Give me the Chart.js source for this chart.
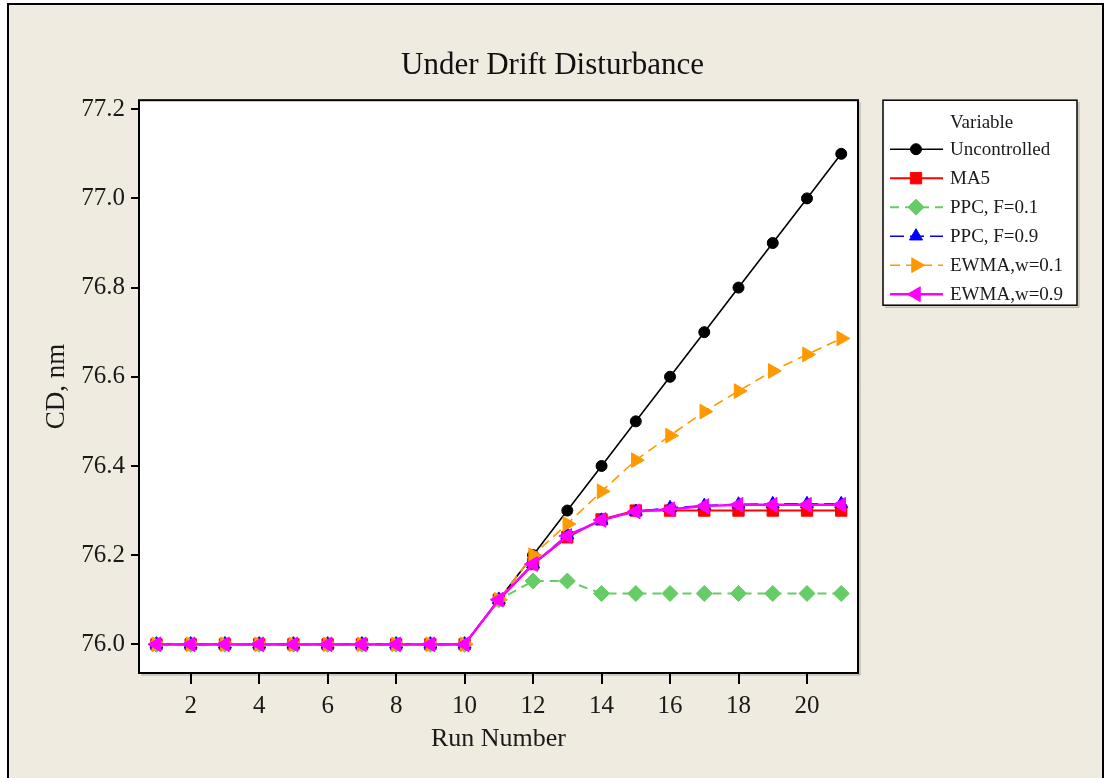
<!DOCTYPE html>
<html>
<head>
<meta charset="utf-8">
<script src="https://cdn.jsdelivr.net/npm/chart.js@4"></script>
<style>
    body { margin: 0; background: #fff; }
    .frame {
        position: absolute; left: 7px; top: 3px;
        width: 1097px; height: 800px;
        box-sizing: border-box;
        border: 2px solid #000;
        background: #efebe0;
    }
    #chart { position: absolute; left: 0; top: 0; }
</style>
</head>
<body>
<div class="frame"></div>
<canvas id="chart" width="1105" height="778"></canvas>
<script>
const runs = [1, 2, 3, 4, 5, 6, 7, 8, 9, 10, 11, 12, 13, 14, 15, 16, 17, 18, 19, 20, 21];
const uncontrolled = [76, 76, 76, 76, 76, 76, 76, 76, 76, 76, 76.1, 76.2, 76.3, 76.4, 76.5, 76.6, 76.7, 76.8, 76.9, 77.0, 77.1];
const ma5 = [76, 76, 76, 76, 76, 76, 76, 76, 76, 76, 76.1, 76.18, 76.24, 76.28, 76.3, 76.3, 76.3, 76.3, 76.3, 76.3, 76.3];
const ppcF01 = [76, 76, 76, 76, 76, 76, 76, 76, 76, 76, 76.1, 76.142, 76.142, 76.114, 76.114, 76.114, 76.114, 76.114, 76.114, 76.114, 76.114];
const ppcF09 = [76, 76, 76, 76, 76, 76, 76, 76, 76, 76, 76.1, 76.18, 76.245, 76.278, 76.298, 76.306, 76.311, 76.314, 76.315, 76.315, 76.315];
const ewmaW01 = [76, 76, 76, 76, 76, 76, 76, 76, 76, 76, 76.1, 76.2, 76.27, 76.343, 76.413, 76.468, 76.522, 76.568, 76.613, 76.65, 76.686];
const ewmaW09 = [76, 76, 76, 76, 76, 76, 76, 76, 76, 76, 76.1, 76.18, 76.243, 76.279, 76.298, 76.303, 76.31, 76.313, 76.313, 76.313, 76.313];

const xTicks = [2, 4, 6, 8, 10, 12, 14, 16, 18, 20];
const yTicks = [76.0, 76.2, 76.4, 76.6, 76.8, 77.0, 77.2];

const serif = "'Liberation Serif', 'Times New Roman', serif";
const textColour = '#1a1a1a';

function series(label, values, colour, style, extra) {
    return Object.assign({
        label: label,
        data: runs.map((r, i) => ({ x: r, y: values[i] })),
        borderColor: colour,
        backgroundColor: colour,
        pointBackgroundColor: colour,
        pointBorderColor: colour,
        pointBorderWidth: 1,
        pointStyle: style,
        borderWidth: 1.6,
        tension: 0,
        fill: false
    }, extra);
}

const datasets = [
    series('Uncontrolled', uncontrolled, '#000000', 'circle', { pointRadius: 5.5, order: 6 }),
    series('MA5', ma5, '#ff0000', 'rect', { pointRadius: 8, borderWidth: 2, order: 5 }),
    series('PPC, F=0.1', ppcF01, '#66cc66', 'rectRot', { pointRadius: 8, borderWidth: 2, borderDash: [9, 6], order: 4 }),
    series('PPC, F=0.9', ppcF09, '#0000ff', 'triangle', { pointRadius: 7.5, borderDash: [14, 6], order: 3 }),
    series('EWMA,w=0.1', ewmaW01, '#ff9900', 'triangle', { pointRadius: 8.5, pointRotation: 90, borderDash: [10, 6], order: 2 }),
    series('EWMA,w=0.9', ewmaW09, '#ff00ff', 'triangle', { pointRadius: 8.5, pointRotation: -90, borderWidth: 2.4, order: 1 })
];

// white plot area + framed border
const plotFrame = {
    id: 'plotFrame',
    beforeDraw(chart) {
        const { ctx, chartArea: a } = chart;
        ctx.save();
        ctx.fillStyle = '#ffffff';
        ctx.fillRect(a.left, a.top, a.right - a.left, a.bottom - a.top);
        ctx.restore();
    },
    afterDraw(chart) {
        const { ctx, chartArea: a } = chart;
        ctx.save();
        ctx.strokeStyle = 'rgba(0,0,0,0.3)';
        ctx.lineWidth = 1;
        ctx.beginPath();
        ctx.moveTo(a.right + 2, a.top + 2);
        ctx.lineTo(a.right + 2, a.bottom + 2);
        ctx.lineTo(a.left + 2, a.bottom + 2);
        ctx.stroke();
        ctx.strokeStyle = '#000';
        ctx.lineWidth = 2;
        ctx.strokeRect(a.left, a.top, a.right - a.left, a.bottom - a.top);
        ctx.restore();
    }
};

// Minitab style boxed legend on the right
const boxLegend = {
    id: 'boxLegend',
    afterDraw(chart) {
        const { ctx, chartArea: a } = chart;
        const left = a.right + 25;
        const top = a.top;
        const width = 194;
        const height = 205;
        const rowH = 29;
        ctx.save();
        ctx.fillStyle = '#ffffff';
        ctx.fillRect(left, top, width, height);
        ctx.strokeStyle = 'rgba(0,0,0,0.3)';
        ctx.lineWidth = 1;
        ctx.beginPath();
        ctx.moveTo(left + width + 2, top + 2);
        ctx.lineTo(left + width + 2, top + height + 2);
        ctx.lineTo(left + 2, top + height + 2);
        ctx.stroke();
        ctx.strokeStyle = '#000';
        ctx.lineWidth = 1.5;
        ctx.strokeRect(left, top, width, height);

        ctx.font = '19px ' + serif;
        ctx.fillStyle = textColour;
        ctx.textBaseline = 'middle';
        ctx.textAlign = 'left';
        ctx.fillText('Variable', left + 67, top + 23);

        chart.data.datasets.forEach((ds, i) => {
            const y = top + 49 + i * rowH;
            ctx.save();
            ctx.strokeStyle = ds.borderColor;
            ctx.lineWidth = ds.borderWidth;
            ctx.setLineDash(ds.borderDash || []);
            ctx.beginPath();
            ctx.moveTo(left + 7, y);
            ctx.lineTo(left + 60, y);
            ctx.stroke();
            ctx.setLineDash([]);
            ctx.fillStyle = ds.pointBackgroundColor;
            ctx.strokeStyle = ds.pointBorderColor;
            ctx.lineWidth = 1;
            Chart.helpers.drawPoint(ctx, {
                pointStyle: ds.pointStyle,
                rotation: ds.pointRotation || 0,
                radius: ds.pointRadius,
                borderWidth: 1
            }, left + 33, y);
            ctx.restore();
            ctx.fillStyle = textColour;
            ctx.fillText(ds.label, left + 67, y + 1);
        });
        ctx.restore();
    }
};

new Chart(document.getElementById('chart').getContext('2d'), {
    type: 'line',
    data: { datasets: datasets },
    options: {
        responsive: false,
        animation: false,
        layout: { padding: 0 },
        scales: {
            x: {
                type: 'linear',
                min: 0.49,
                max: 21.49,
                afterBuildTicks: s => { s.ticks = xTicks.map(v => ({ value: v })); },
                afterFit: s => { s.height = 105; },
                ticks: {
                    color: textColour,
                    font: { family: serif, size: 25 },
                    padding: 7,
                    maxRotation: 0,
                    callback: v => String(v)
                },
                grid: { drawOnChartArea: false, drawTicks: true, tickLength: 11, color: '#000', lineWidth: 2 },
                border: { display: false },
                title: {
                    display: true,
                    text: 'Run Number',
                    color: textColour,
                    font: { family: serif, size: 26 },
                    padding: { top: 0, bottom: 23 }
                }
            },
            y: {
                type: 'linear',
                min: 75.9357,
                max: 77.2202,
                afterBuildTicks: s => { s.ticks = yTicks.map(v => ({ value: v })); },
                afterFit: s => { s.width = 139; },
                ticks: {
                    color: textColour,
                    font: { family: serif, size: 25 },
                    padding: 6,
                    callback: v => Number(v).toFixed(1)
                },
                grid: { drawOnChartArea: false, drawTicks: true, tickLength: 8, color: '#000', lineWidth: 2 },
                border: { display: false },
                title: {
                    display: true,
                    text: 'CD, nm',
                    color: textColour,
                    font: { family: serif, size: 27 },
                    padding: { top: 41, bottom: 0 }
                }
            },
            // empty right-hand strip that keeps room for the boxed legend
            legendSpace: {
                type: 'linear',
                position: 'right',
                display: true,
                ticks: { display: false },
                grid: { display: false },
                border: { display: false },
                afterFit: s => { s.width = 247; }
            }
        },
        plugins: {
            legend: { display: false },
            tooltip: { enabled: false },
            title: {
                display: true,
                text: 'Under Drift Disturbance',
                color: '#111',
                font: { family: serif, size: 31, weight: 'normal' },
                padding: { top: 47, bottom: 16 }
            }
        }
    },
    plugins: [plotFrame, boxLegend]
});
</script>
</body>
</html>
